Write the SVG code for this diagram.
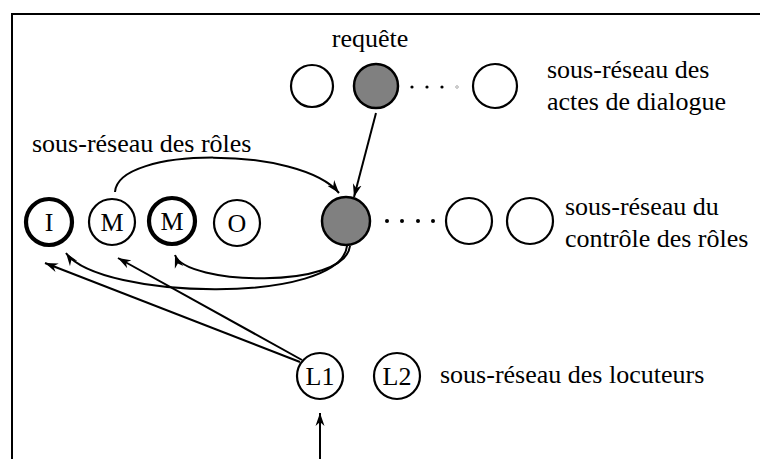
<svg xmlns="http://www.w3.org/2000/svg" width="760" height="459" viewBox="0 0 760 459">
<style>
text{font-family:"Liberation Serif","Times New Roman",serif;font-size:26px;fill:#000}
.n{fill:#fff;stroke:#000;stroke-width:2.2}
.thick{stroke-width:4.2}
.g{fill:#808080;stroke:#000;stroke-width:2.5}
.c{fill:none;stroke:#000;stroke-width:2}
.lbl{text-anchor:middle}
</style>
<defs>
<marker id="ah" markerUnits="userSpaceOnUse" markerWidth="14" markerHeight="10" viewBox="0 0 14 10" refX="13" refY="5" orient="auto">
<path d="M0,0.5 L13,5 L0,9.5 L4,5 z" fill="#000"/>
</marker>
</defs>
<rect x="12" y="14" width="760" height="460" fill="#fff" stroke="#000" stroke-width="2"/>

<g id="connectors">
<path class="c" d="M376,113 L354,197" marker-end="url(#ah)"/>
<path class="c" d="M115,192 C118,146 300,146 339,193" marker-end="url(#ah)"/>
<path class="c" d="M350,246 C345,290 185,285 175,255" marker-end="url(#ah)"/>
<path class="c" d="M347,246 C340,305 100,300 66,253" marker-end="url(#ah)"/>
<path class="c" d="M300,362 L45,263" marker-end="url(#ah)"/>
<path class="c" d="M302,360 L118,258" marker-end="url(#ah)"/>
<path class="c" d="M320,459 L320,413" marker-end="url(#ah)"/>
</g>

<g id="dots-top" fill="#000">
<circle cx="412" cy="87" r="1.6"/>
<circle cx="427" cy="87" r="1.6"/>
<circle cx="442" cy="87" r="1.6"/>
<circle cx="457" cy="87" r="1.3" fill="#fff" stroke="#999" stroke-width="0.8"/>
</g>
<g id="dots-mid" fill="#000">
<circle cx="387" cy="221" r="2"/>
<circle cx="402" cy="221" r="2"/>
<circle cx="418" cy="221" r="2"/>
<circle cx="433" cy="221" r="2"/>
</g>

<g id="act1"><circle class="n" cx="312" cy="86" r="21"/></g>
<g id="requete"><circle class="g" cx="376" cy="86" r="22"/><text x="370" y="47" class="lbl">requête</text></g>
<g id="act3"><circle class="n" cx="495" cy="86" r="22"/></g>
<g id="label-actes"><text x="547" y="78">sous-réseau des</text><text x="547" y="110">actes de dialogue</text></g>

<g id="label-roles"><text x="32" y="152">sous-réseau des rôles</text></g>
<g id="role-I"><circle class="n thick" cx="49" cy="222" r="23"/><text x="49" y="231" class="lbl">I</text></g>
<g id="role-M1"><circle class="n" cx="112" cy="222" r="23"/><text x="112" y="231" class="lbl">M</text></g>
<g id="role-M2"><circle class="n thick" cx="172" cy="221" r="23"/><text x="172" y="230" class="lbl">M</text></g>
<g id="role-O"><circle class="n" cx="237" cy="223" r="23"/><text x="237" y="232" class="lbl">O</text></g>

<g id="ctrl1"><circle class="g" cx="346" cy="221" r="24"/></g>
<g id="ctrl2"><circle class="n" cx="469" cy="221" r="23"/></g>
<g id="ctrl3"><circle class="n" cx="530" cy="221" r="23"/></g>
<g id="label-ctrl"><text x="565" y="215">sous-réseau du</text><text x="565" y="247">contrôle des rôles</text></g>

<g id="L1"><circle class="n" cx="320" cy="376" r="23"/><text x="320" y="385" class="lbl">L1</text></g>
<g id="L2"><circle class="n" cx="397" cy="376" r="23"/><text x="397" y="385" class="lbl">L2</text></g>
<g id="label-loc"><text x="440" y="383">sous-réseau des locuteurs</text></g>
</svg>
